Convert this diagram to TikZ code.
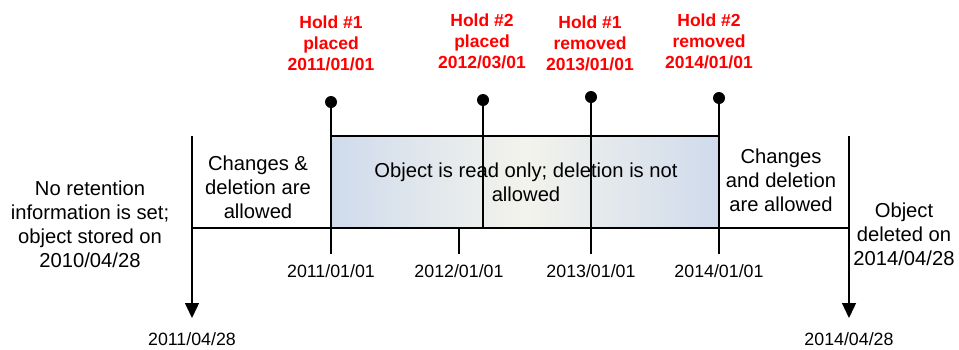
\documentclass[tikz,border=0pt]{standalone}
\usepackage{fontspec}
\setmainfont{Liberation Sans}
\usetikzlibrary{arrows.meta}
\definecolor{boxblue}{RGB}{207,219,236}
\definecolor{boxmid}{RGB}{243,243,236}
\definecolor{holdred}{RGB}{255,0,0}
\tikzset{
  body/.style={align=center, font=\fontsize{20.2}{24}\selectfont, inner sep=0pt},
  datelbl/.style={font=\fontsize{17.8}{21}\selectfont, inner sep=0pt},
  holdlbl/.style={align=center, text=holdred, font=\bfseries\fontsize{17.5}{21}\selectfont, inner sep=0pt},
  axisline/.style={line width=1.8pt},
  tick/.style={line width=1.4pt},
  bigarrow/.style={line width=1.4pt, -{Triangle[width=14pt,length=15pt]}},
  pin/.style={fill=black}
}
\begin{document}
\begin{tikzpicture}[x=1pt,y=-1pt]
\useasboundingbox (0,0) rectangle (959,349);
% box
\path[left color=boxblue, right color=boxblue, middle color=boxmid] (331,136) rectangle (719,228);
\node[body] (ro) at (526,182) {Object is read only; deletion is not\\allowed};
% coordinates
\coordinate (la) at (192,136);
\coordinate (lb) at (192,318);
\coordinate (ra) at (849,136);
\coordinate (rb) at (849,318);
\coordinate (tl) at (192,228);
\coordinate (tr) at (849,228);
\coordinate (p1) at (331,102);
\coordinate (p1b) at (331,254);
\coordinate (p2) at (483,100);
\coordinate (p2b) at (483,228);
\coordinate (p3) at (591,97);
\coordinate (p3b) at (591,254);
\coordinate (p4) at (719,98);
\coordinate (p4b) at (719,254);
\coordinate (t2) at (459,228);
\coordinate (t2b) at (459,254);
\coordinate (bxl) at (331,136);
\coordinate (bxr) at (719,136);
% box top
\draw[axisline] (bxl) -- (bxr);
% timeline
\draw[axisline] (tl) -- (tr);
% arrows
\draw[bigarrow] (la) -- (lb);
\draw[bigarrow] (ra) -- (rb);
% ticks and pins
\draw[tick] (p1) -- (p1b);
\draw[tick] (p2) -- (p2b);
\draw[tick] (p3) -- (p3b);
\draw[tick] (p4) -- (p4b);
\draw[tick] (t2) -- (t2b);
\fill[pin] (p1) circle (6);
\fill[pin] (p2) circle (6);
\fill[pin] (p3) circle (6);
\fill[pin] (p4) circle (6);
% texts
\node[body] (nr) at (90,224) {No retention\\information is set;\\object stored on\\2010/04/28};
\node[body] (ca) at (258,187) {Changes \&\\deletion are\\allowed};
\node[body] (cb) at (781,180) {Changes\\and deletion\\are allowed};
\node[body] (od) at (904,234) {Object\\deleted on\\2014/04/28};
% dates
\node[datelbl] (d1) at (331,271) {2011/01/01};
\node[datelbl] (d2) at (459,271) {2012/01/01};
\node[datelbl] (d3) at (591,271) {2013/01/01};
\node[datelbl] (d4) at (719,271) {2014/01/01};
\node[datelbl] (d5) at (192,339) {2011/04/28};
\node[datelbl] (d6) at (849,339) {2014/04/28};
% holds
\node[holdlbl] (h1) at (331,43) {Hold \#1\\placed\\2011/01/01};
\node[holdlbl] (h2) at (482,41) {Hold \#2\\placed\\2012/03/01};
\node[holdlbl] (h3) at (590,43) {Hold \#1\\removed\\2013/01/01};
\node[holdlbl] (h4) at (709,41) {Hold \#2\\removed\\2014/01/01};
\end{tikzpicture}
\end{document}
